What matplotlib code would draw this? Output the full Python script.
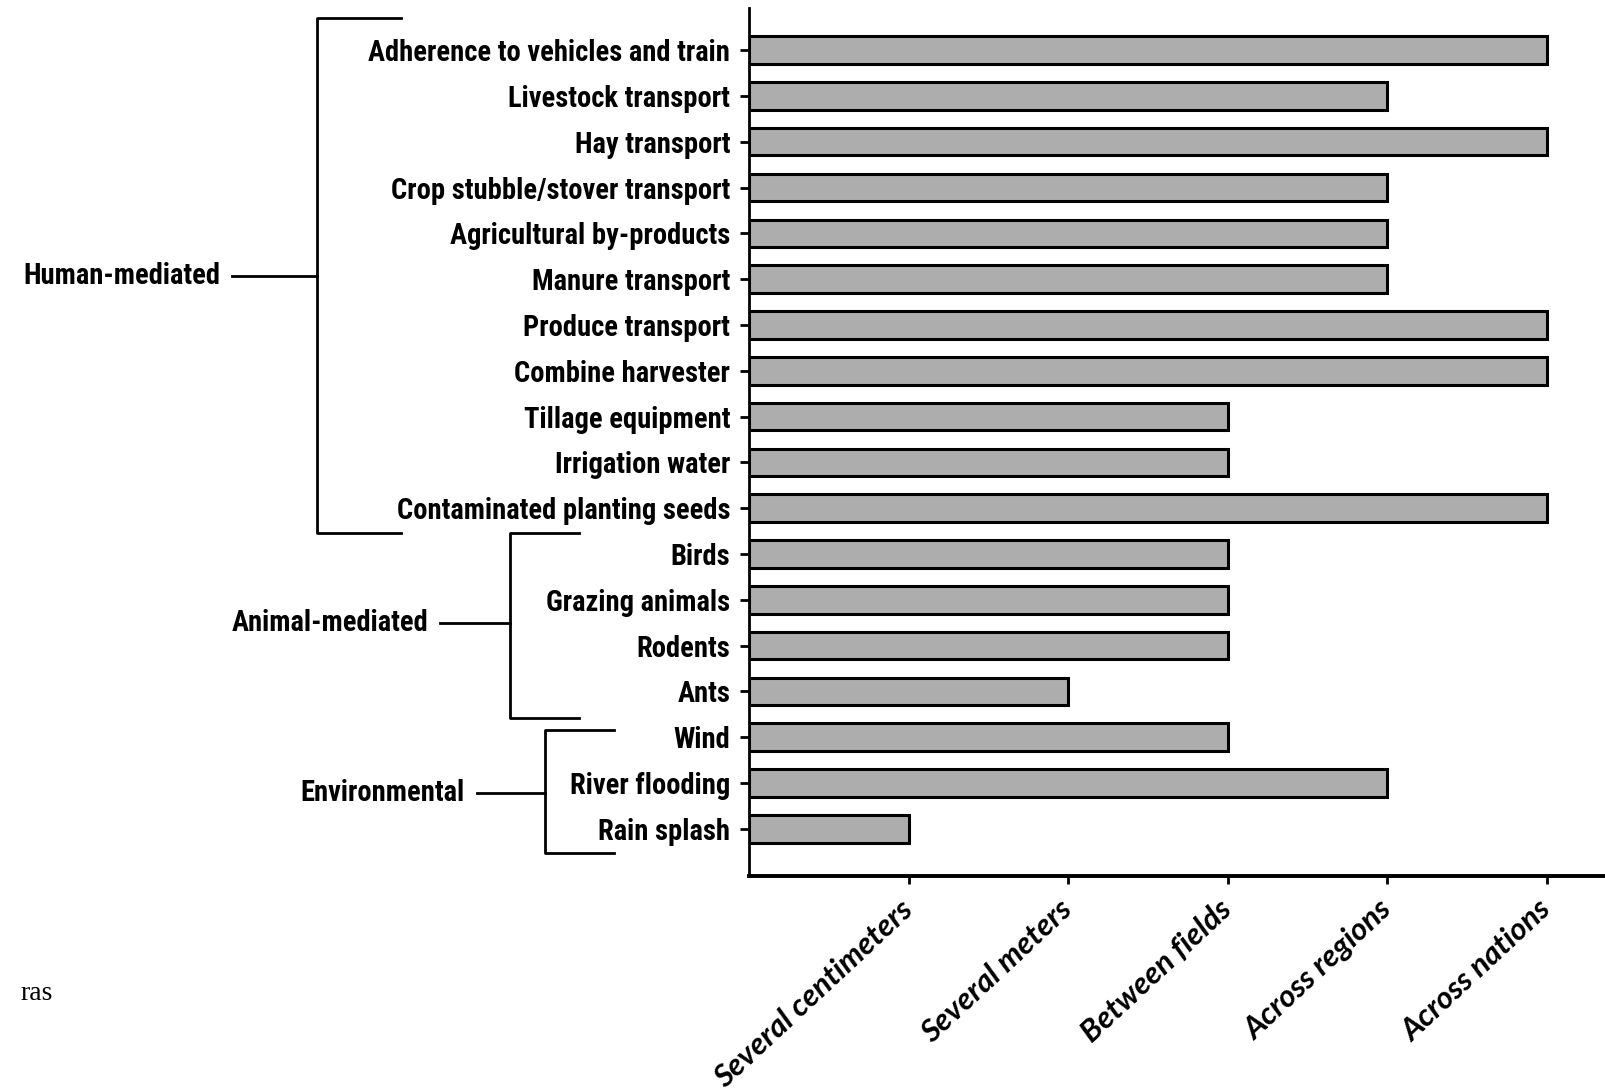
import matplotlib.pyplot as plt
import matplotlib.transforms as mtransforms
from matplotlib import font_manager as fm

categories = [
    "Adherence to vehicles and train",
    "Livestock transport",
    "Hay transport",
    "Crop stubble/stover transport",
    "Agricultural by-products",
    "Manure transport",
    "Produce transport",
    "Combine harvester",
    "Tillage equipment",
    "Irrigation water",
    "Contaminated planting seeds",
    "Birds",
    "Grazing animals",
    "Rodents",
    "Ants",
    "Wind",
    "River flooding",
    "Rain splash",
]
# 1 = several centimeters ... 5 = across nations
spread = [5, 4, 5, 4, 4, 4, 5, 5, 3, 3, 5, 3, 3, 3, 2, 3, 4, 1]
scale_labels = ["Several centimeters", "Several meters", "Between fields",
                "Across regions", "Across nations"]
scale_ticks = [1, 2, 3, 4, 5]

# groups: (label, first row, last row)
groups = [("Human-mediated", 0, 10), ("Animal-mediated", 11, 14),
          ("Environmental", 15, 17)]

# pick a narrow bold sans if one is installed
fonts = fm.fontManager.ttflist
names = {f.name for f in fonts}
narrow_family, narrow_stretch = "Liberation Sans", "normal"
for cand in ["Liberation Sans Narrow", "Arial Narrow", "Roboto Condensed",
             "Open Sans Condensed", "Noto Sans Condensed"]:
    if cand in names:
        narrow_family = cand
        break
else:
    for fam in ["Noto Sans", "DejaVu Sans", "Roboto", "Open Sans"]:
        if any(f.name == fam and "condensed" in str(f.stretch) for f in fonts):
            narrow_family, narrow_stretch = fam, "condensed"
            break
lab_font = [narrow_family, "DejaVu Sans"]

W, H = 1606, 1091
fig = plt.figure(figsize=(W / 100, H / 100), dpi=100)

# scale label size so the longest label is ~360 px wide, like the reference
renderer = fig.canvas.get_renderer()
probe = fig.text(0, 0, categories[0], family=lab_font, fontweight="bold",
                 fontstretch=narrow_stretch, fontsize=20)
lab_size = min(21.5, 20 * 360 / probe.get_window_extent(renderer).width)
probe.remove()

ax = fig.add_axes([749 / W, 1 - 876 / H, 1 - 749 / W, (876 - 8) / H])

rows = list(range(len(categories)))
ax.barh(rows, spread, height=0.6, color="#adadad", edgecolor="black",
        linewidth=2.2)
ax.set_ylim(18.03, -0.92)
ax.set_xlim(0, 5.37)

ax.set_yticks(rows)
ax.set_yticklabels(categories, family=lab_font, fontweight="bold",
                   fontstretch=narrow_stretch, fontsize=lab_size)
ax.set_xticks(scale_ticks)
ax.set_xticklabels(scale_labels, family=["Lato", "DejaVu Sans"],
                   style="italic", fontweight="bold", fontsize=22.5,
                   rotation=43, ha="right", va="center",
                   rotation_mode="anchor")
ax.tick_params(axis="y", length=6.5, width=2, pad=7)
ax.tick_params(axis="x", length=6, width=2, pad=15)

for s in ["top", "right"]:
    ax.spines[s].set_visible(False)
ax.spines["left"].set_linewidth(2)
ax.spines["bottom"].set_linewidth(2.8)

# group brackets: x in figure pixels, y in data rows
blend = mtransforms.blended_transform_factory(fig.transFigure, ax.transData)
brackets = [
    # vertical x, arm end x, top, bottom, connector y, connector start x
    (317, 401, -0.7, 10.55, 4.93, 232),
    (510, 579, 10.55, 14.58, 12.51, 440),
    (545, 614, 14.85, 17.53, 16.22, 477),
]
for (name, r0, r1), (vx, ex, top, bot, cy, cx) in zip(groups, brackets):
    xs = [ex / W, vx / W, vx / W, ex / W]
    ys = [top, top, bot, bot]
    ax.plot(xs, ys, color="black", lw=2, transform=blend, clip_on=False)
    ax.plot([cx / W, vx / W], [cy, cy], color="black", lw=2,
            transform=blend, clip_on=False)
    ax.text((cx - 12) / W, cy, name, transform=blend, ha="right",
            va="center", family=lab_font, fontweight="bold",
            fontstretch=narrow_stretch, fontsize=lab_size)

fig.text(20 / W, 1 - 993 / H, "ras", family="Liberation Serif",
         fontsize=20, ha="left", va="center")

fig.savefig("out.png", dpi=100)
